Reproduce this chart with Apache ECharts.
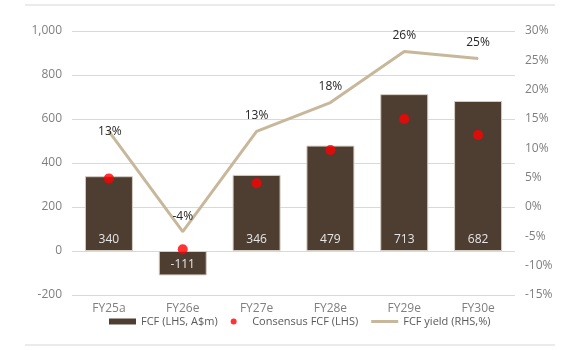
<!DOCTYPE html>
<html>
<head>
<meta charset="utf-8">
<script src="https://cdn.jsdelivr.net/npm/echarts@6/dist/echarts.min.js"></script>
<style>
  html, body { margin: 0; padding: 0; background: #fff; }
  #chart { width: 570px; height: 350px; }
</style>
</head>
<body>
<div id="chart"></div>
<script>
var categories = ['FY25a', 'FY26e', 'FY27e', 'FY28e', 'FY29e', 'FY30e'];
var fcf = [340, -111, 346, 479, 713, 682];
var consensus = [330, 8, 308, 459, 600, 527];
var fcfYield = [12.9, -4.2, 12.9, 17.8, 26.5, 25.3];
var yieldLabels = ['13%', '-4%', '13%', '18%', '26%', '25%'];

var FONT = '"Open Sans", "Noto Sans", sans-serif';

var chart = echarts.init(document.getElementById('chart'));

var option = {
  animation: false,
  textStyle: { fontFamily: FONT },
  graphic: [
    { type: 'rect', shape: { x: 25, y: 4, width: 530, height: 2 }, style: { fill: '#ebebeb' } },
    { type: 'rect', shape: { x: 25, y: 344, width: 530, height: 2 }, style: { fill: '#ebebeb' } }
  ],
  grid: { left: 72, right: 55, top: 31, bottom: 55 },
  legend: {
    bottom: 18,
    left: 104,
    itemWidth: 27,
    itemHeight: 6,
    itemGap: 13,
    itemStyle: { borderWidth: 0 },
    textStyle: { color: '#595959', fontSize: 11, fontFamily: FONT },
    data: [
      { name: 'FCF (LHS, A$m)', icon: 'rect' },
      { name: 'Consensus FCF (LHS)', icon: 'circle' },
      { name: 'FCF yield (RHS,%)', icon: 'path://M0,0H27V3H0Z' }
    ]
  },
  xAxis: {
    type: 'category',
    data: categories,
    axisLine: { show: false, onZero: false },
    axisTick: { show: false },
    axisLabel: { color: '#7f7f7f', fontSize: 12, margin: 8 }
  },
  yAxis: [
    {
      type: 'value',
      min: -200,
      max: 1000,
      interval: 200,
      axisLabel: {
        color: '#7f7f7f',
        fontSize: 12,
        margin: 10,
        formatter: function (v) { return v.toLocaleString('en-US'); }
      },
      splitLine: { lineStyle: { color: '#d9d9d9', width: 1 } }
    },
    {
      type: 'value',
      min: -15,
      max: 30,
      interval: 5,
      axisLabel: { color: '#7f7f7f', fontSize: 12, margin: 10, formatter: '{value}%' },
      splitLine: { show: false }
    }
  ],
  series: [
    {
      name: 'FCF (LHS, A$m)',
      type: 'bar',
      data: fcf,
      barWidth: '65%',
      itemStyle: { color: '#4e3e32', borderColor: '#d6cdc2', borderWidth: 1 },
      label: {
        show: true,
        position: 'insideBottom',
        distance: 5,
        color: '#e6e6e6',
        fontSize: 12,
        fontFamily: FONT
      },
      z: 2
    },
    {
      name: 'Consensus FCF (LHS)',
      type: 'scatter',
      data: consensus,
      symbol: 'circle',
      symbolSize: 10,
      itemStyle: { color: '#ff0000' },
      z: 5
    },
    {
      name: 'FCF yield (RHS,%)',
      type: 'line',
      yAxisIndex: 1,
      data: fcfYield.map(function (v, i) {
        var d = { value: v };
        if (i === 0) d.label = { position: 'inside', offset: [1, 0] };
        return d;
      }),
      symbol: 'circle',
      symbolSize: 1,
      itemStyle: { color: '#c8b89b' },
      lineStyle: { color: '#c8b89b', width: 3 },
      label: {
        show: true,
        position: 'top',
        distance: 9,
        color: '#262626',
        fontSize: 12,
        fontFamily: FONT,
        formatter: function (p) { return yieldLabels[p.dataIndex]; }
      },
      z: 4
    }
  ]
};

chart.setOption(option);
</script>
</body>
</html>
